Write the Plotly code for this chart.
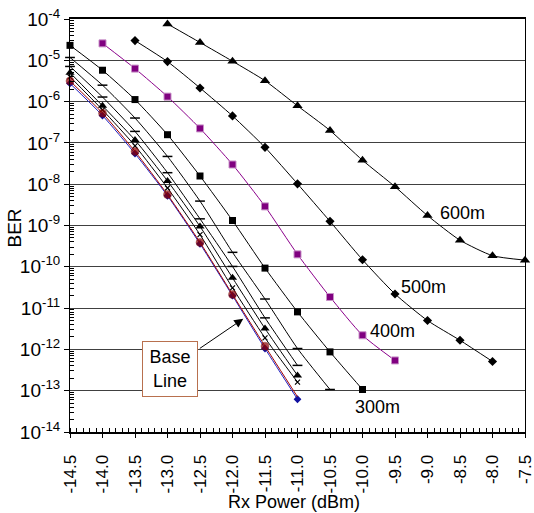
import plotly.graph_objects as go

# ---------------- data ----------------
x_tick_labels = ["-14.5", "-14.0", "-13.5", "-13.0", "-12.5", "-12.0", "-11.5",
                 "-11.0", "-10.5", "-10.0", "-9.5", "-9.0", "-8.5", "-8.0", "-7.5"]
x_tick_vals = [-14.5, -14.0, -13.5, -13.0, -12.5, -12.0, -11.5,
               -11.0, -10.5, -10.0, -9.5, -9.0, -8.5, -8.0, -7.5]
y_exponents = [-4, -5, -6, -7, -8, -9, -10, -11, -12, -13, -14]

base_x = [-14.5, -14.0, -13.5, -13.0, -12.5, -12.0, -11.5, -11.0]
base_ber = [2.75e-6, 4.6e-7, 5.5e-8, 5.25e-9, 3.6e-10, 2.0e-11, 1.05e-12, 6.2e-14]

red_x = [-14.5, -14.0, -13.5, -13.0, -12.5, -12.0, -11.5, -11.0]
red_ber = [3.16e-6, 5.25e-7, 6.2e-8, 5.6e-9, 3.9e-10, 2.14e-11, 1.2e-12, 7.1e-14]

cross_x = [-14.5, -14.0, -13.5, -13.0, -12.5, -12.0, -11.5, -11.0]
cross_ber = [3.98e-6, 6.3e-7, 8.5e-8, 8.1e-9, 6.0e-10, 3.1e-11, 1.9e-12, 1.62e-13]

tri_x = [-14.5, -14.0, -13.5, -13.0, -12.5, -12.0, -11.5, -11.0]
tri_ber = [5.0e-6, 7.9e-7, 1.17e-7, 1.2e-8, 9.5e-10, 5.4e-11, 3.2e-12, 2.34e-13]

dash2_x = [-14.5, -14.0, -13.5, -13.0, -12.5, -12.0, -11.5, -11.0]
dash2_ber = [7.1e-6, 1.29e-6, 1.9e-7, 1.9e-8, 1.45e-9, 1.02e-10, 5.8e-12, 4.1e-13]

dash1_x = [-14.5, -14.0, -13.5, -13.0, -12.5, -12.0, -11.5, -11.0, -10.5]
dash1_ber = [1.17e-5, 2.5e-6, 4.0e-7, 4.7e-8, 3.9e-9, 2.24e-10, 1.66e-11, 1.05e-12, 1.07e-13]

sq_x = [-14.5, -14.0, -13.5, -13.0, -12.5, -12.0, -11.5, -11.0, -10.5, -10.0]
sq_ber = [2.3e-5, 5.75e-6, 1.12e-6, 1.58e-7, 1.58e-8, 1.32e-9, 9.3e-11, 8.1e-12, 8.7e-13, 1.07e-13]

m400_x = [-14.0, -13.5, -13.0, -12.5, -12.0, -11.5, -11.0, -10.5, -10.0, -9.5]
m400_ber = [2.57e-5, 6.3e-6, 1.32e-6, 2.24e-7, 3.0e-8, 2.9e-9, 2.0e-10, 1.86e-11, 2.2e-12, 5.4e-13]

m500_x = [-13.5, -13.0, -12.5, -12.0, -11.5, -11.0, -10.5, -10.0, -9.5, -9.0, -8.5, -8.0]
m500_ber = [3.0e-5, 9.3e-6, 2.14e-6, 4.5e-7, 7.8e-8, 1.02e-8, 1.26e-9, 1.48e-10, 2.2e-11, 5.0e-12, 1.66e-12, 5.1e-13]

m600_x = [-13.0, -12.5, -12.0, -11.5, -11.0, -10.5, -10.0, -9.5, -9.0, -8.5, -8.0, -7.5]
m600_ber = [7.6e-5, 2.7e-5, 9.5e-6, 3.2e-6, 7.9e-7, 2.0e-7, 3.8e-8, 8.7e-9, 1.74e-9, 4.4e-10, 1.86e-10, 1.45e-10]

# ---------------- figure ----------------
FONT = "Liberation Sans, Arial, sans-serif"
fig = go.Figure()


def add(x, y, color, symbol, size, mcolor=None, mline=None, mlw=0, sizes=None):
    fig.add_trace(go.Scatter(
        x=x, y=y, mode="lines+markers", cliponaxis=False,
        line=dict(color=color, width=1, shape="spline", smoothing=0.6),
        marker=dict(symbol=symbol, size=sizes if sizes else size,
                    color=mcolor or color,
                    line=dict(color=mline or (mcolor or color), width=mlw)),
        showlegend=False, hoverinfo="skip"))


add(m600_x, m600_ber, "black", "triangle-up", 9)
add(m500_x, m500_ber, "black", "diamond", 7)
add(m400_x, m400_ber, "#8b008b", "square", 7, mcolor="#800080", mline="#c890c8", mlw=1)
add(sq_x, sq_ber, "black", "square", 7)
add(dash1_x, dash1_ber, "black", "line-ew", 7, mlw=1.5)
add(dash2_x, dash2_ber, "black", "line-ew", 7, mlw=1.5)
add(tri_x, tri_ber, "black", "triangle-up", 8)
add(cross_x, cross_ber, "black", "x-thin", 5, mlw=1.2)
add(base_x, base_ber, "#2020c0", "diamond", 6, mcolor="#1010a0")
add(red_x, red_ber, "#a00000", "circle", 8, mcolor="#8b0000", mline="#700000", mlw=0.5,
    sizes=[8, 8, 8, 8, 8, 8, 8, 0])

minor_y = [k * 10.0 ** e for e in range(-14, -4) for k in range(2, 10)]

fig.update_yaxes(
    type="log", range=[-14, -4], automargin=False,
    tickmode="array",
    tickvals=[10.0 ** e for e in y_exponents],
    ticktext=["10<sup>%d</sup>" % e for e in y_exponents],
    ticks="outside", ticklen=5, tickwidth=1, tickcolor="black",
    tickfont=dict(family=FONT, size=19, color="black"),
    showgrid=True, gridcolor="#404040", gridwidth=1,
    showline=True, linecolor="black", linewidth=1, mirror=True,
    zeroline=False, ticklabeloverflow="allow",
    minor=dict(tickmode="array", tickvals=minor_y, ticks="inside", ticklen=4,
               tickcolor="black", tickwidth=1, showgrid=False),
)

fig.update_xaxes(
    range=[-14.5, -7.5], automargin=False,
    tickmode="array", tickvals=x_tick_vals, ticktext=x_tick_labels,
    tickangle=-90,
    ticks="outside", ticklen=4, tickwidth=1, tickcolor="black",
    ticklabelstandoff=10, ticklabeloverflow="allow",
    tickfont=dict(family=FONT, size=17, color="black"),
    showgrid=False, zeroline=False,
    showline=True, linecolor="black", linewidth=2, mirror=True,
    minor=dict(dtick=0.1, tick0=-14.5, ticks="inside", ticklen=4,
               tickcolor="black", tickwidth=1, showgrid=False),
)

ann_font = dict(family=FONT, size=18, color="black")
annotations = [
    dict(x=-8.454, y=-8.69, text="600m", showarrow=False, font=ann_font),
    dict(x=-9.054, y=-10.48, text="500m", showarrow=False, font=ann_font),
    dict(x=-9.546, y=-11.566, text="400m", showarrow=False, font=ann_font),
    dict(x=-9.777, y=-13.40, text="300m", showarrow=False, font=ann_font),
    dict(x=-12.966, y=-12.472, text="Base<br>Line", showarrow=False, font=ann_font,
         bordercolor="#b8704e", borderwidth=1, borderpad=2, bgcolor="white",
         width=50, height=50),
    dict(x=-11.834, y=-11.259, ax=-12.526, ay=-12.001, axref="x", ayref="y",
         text="", showarrow=True, arrowhead=2, arrowsize=1.8, arrowwidth=1,
         arrowcolor="black"),
    dict(xref="paper", yref="paper", x=-0.121, y=0.495, text="BER",
         textangle=-90, showarrow=False, font=dict(family=FONT, size=19, color="black")),
    dict(xref="paper", yref="paper", x=0.492, y=-0.17, text="Rx Power (dBm)",
         showarrow=False, font=dict(family=FONT, size=18, color="black")),
]
for a in annotations:
    a.setdefault("xref", "x")
    a.setdefault("yref", "y")
    a.setdefault("xanchor", "center")
    a.setdefault("yanchor", "middle")
fig.update_layout(
    width=534, height=513,
    margin=dict(l=70, r=9, t=19, b=81),
    paper_bgcolor="white", plot_bgcolor="white",
    annotations=annotations,
    font=dict(family=FONT, color="black"),
    hovermode=False,
)

fig.write_html(
    "out.html",
    config={"displayModeBar": False, "staticPlot": True},
    post_script="document.body.style.margin='0px';document.body.style.overflow='hidden';",
)
